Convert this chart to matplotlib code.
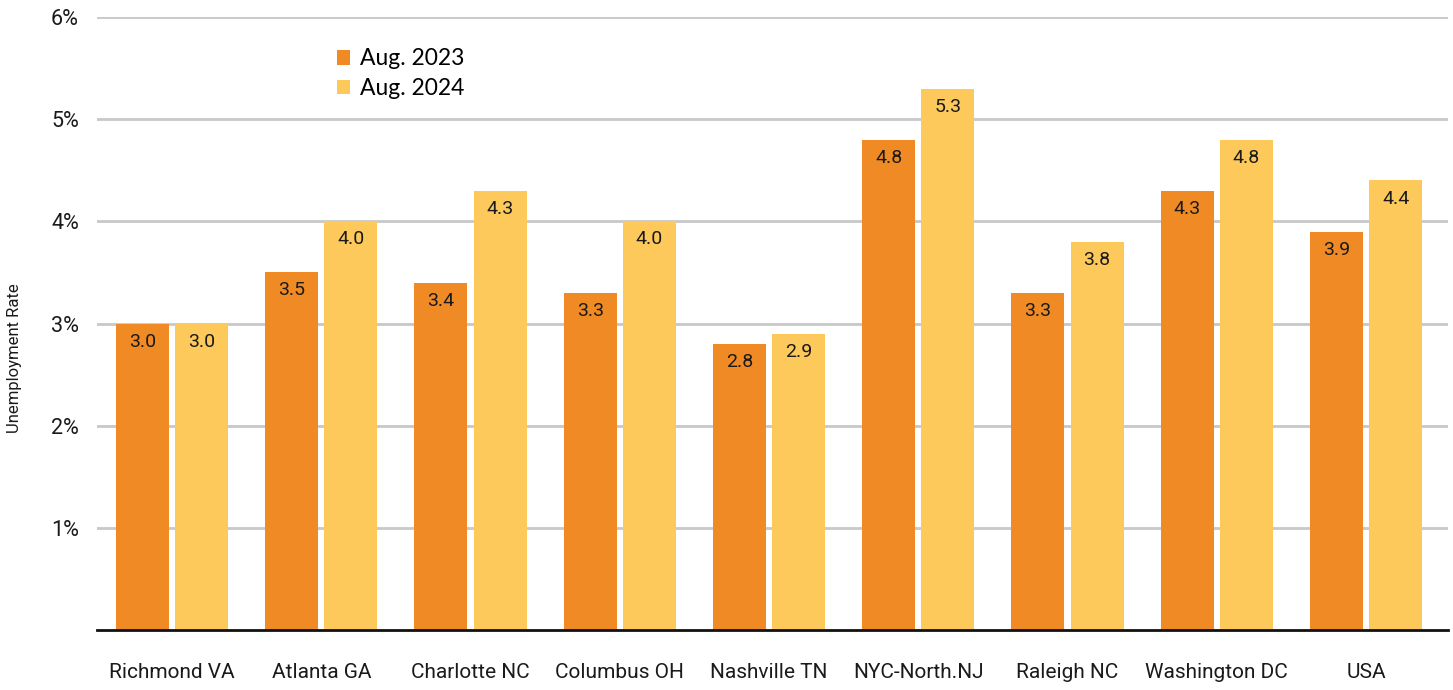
import matplotlib
matplotlib.use("Agg")
import matplotlib.pyplot as plt
import numpy as np

categories = ["Richmond VA", "Atlanta GA", "Charlotte NC", "Columbus OH", "Nashville TN",
              "NYC-North.NJ", "Raleigh NC", "Washington DC", "USA"]
aug_2023 = [3.0, 3.5, 3.4, 3.3, 2.8, 4.8, 3.3, 4.3, 3.9]
aug_2024 = [3.0, 4.0, 4.3, 4.0, 2.9, 5.3, 3.8, 4.8, 4.4]
y_ticks = [1, 2, 3, 4, 5, 6]
y_tick_labels = ["1%", "2%", "3%", "4%", "5%", "6%"]

ORANGE = "#F08A24"
YELLOW = "#FDC95A"

plt.rcParams["font.family"] = ["Roboto", "DejaVu Sans"]

fig = plt.figure(figsize=(14.53, 6.90), dpi=100)
ax = fig.add_axes([97 / 1453, 60 / 690, (1448 - 97) / 1453, (630 - 17) / 690])

x = np.arange(len(categories))
w = 0.355
off = 0.198
b1 = ax.bar(x - off, aug_2023, width=w, color=ORANGE, label="Aug. 2023", zorder=3)
b2 = ax.bar(x + off, aug_2024, width=w, color=YELLOW, label="Aug. 2024", zorder=3)

for bars, vals in ((b1, aug_2023), (b2, aug_2024)):
    for rect, v in zip(bars, vals):
        ax.annotate(f"{v:.1f}", (rect.get_x() + rect.get_width() / 2, v),
                    xytext=(0, -13), textcoords="offset points",
                    ha="center", va="center", fontsize=14, color="#1a1a1a", zorder=4)

ax.set_xlim(-0.5025, 8.549)
ax.set_ylim(0, 6)
ax.set_yticks(y_ticks)
ax.set_yticklabels(y_tick_labels, fontsize=15.5, color="#1a1a1a")
ax.set_xticks(x)
ax.set_xticklabels(categories, fontsize=15, color="#1a1a1a")
ax.tick_params(axis="y", length=0, pad=13)
ax.tick_params(axis="x", length=0, pad=24)
ax.yaxis.grid(True, color="#c8c8c8", linewidth=2, zorder=0)
ax.set_axisbelow(True)
for s in ("top", "right", "left"):
    ax.spines[s].set_visible(False)
ax.spines["bottom"].set_color("#111111")
ax.spines["bottom"].set_linewidth(2)
ax.spines["bottom"].set_zorder(5)

fig.text(15 / 1453, (690 - 358) / 690, "Unemployment Rate", rotation=90,
         ha="center", va="center", fontsize=12, color="#1a1a1a")

ax.legend(loc="upper left", bbox_to_anchor=(0.1655, 0.975), frameon=False,
          handlelength=0.6, handleheight=0.6, handletextpad=0.4,
          labelspacing=0.38, borderpad=0.2,
          prop={"family": ["Lato", "DejaVu Sans"], "size": 16.5})

fig.savefig("out.png", dpi=100)
